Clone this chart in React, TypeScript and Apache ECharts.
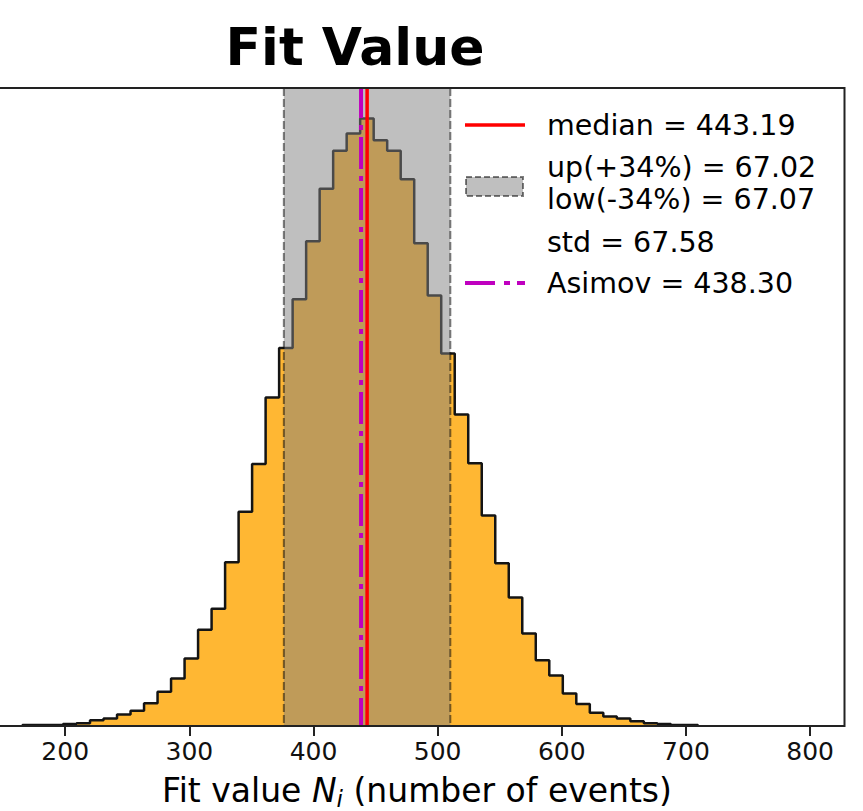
import React, { useEffect, useRef } from 'react';
import * as echarts from 'echarts';

// ---- data ----
const BIN_MIN = 165.6;
const BIN_MAX = 709.6;
const counts = [
  1, 1, 1, 2, 3, 6, 8, 12, 16, 24,
  36, 50, 71, 101, 123, 172, 225, 275, 345, 397,
  448, 509, 564, 604, 622, 638, 615, 604, 574, 507,
  452, 391, 327, 276, 221, 171, 135, 97, 69, 53,
  34, 23, 14, 10, 8, 5, 3, 2, 1, 1,
];
const MEDIAN = 443.19;
const UP_ERR = 67.02;
const LOW_ERR = 67.07;
const STD = 67.58;
const ASIMOV = 438.3;
const TICKS = [200, 300, 400, 500, 600, 700, 800];
const X_MIN = 147.5;
const X_MAX = 827.7;
const LEGEND_LABELS = [
  'median = 443.19',
  'up(+34%) = 67.02',
  'low(-34%) = 67.07',
  'std = 67.58',
  'Asimov = 438.30',
];

const Y_MAX = Math.max(...counts) * 1.05;
const BAND_LOW = MEDIAN - LOW_ERR;
const BAND_UP = MEDIAN + UP_ERR;

const FONT = '"DejaVu Sans", "Liberation Sans", sans-serif';

function histOutline(): number[][] {
  const n = counts.length;
  const w = (BIN_MAX - BIN_MIN) / n;
  const pts: number[][] = [[BIN_MIN, 0]];
  for (let i = 0; i < n; i++) {
    pts.push([BIN_MIN + i * w, counts[i]]);
    pts.push([BIN_MIN + (i + 1) * w, counts[i]]);
  }
  pts.push([BIN_MAX, 0]);
  return pts;
}

export default function App() {
  const ref = useRef<HTMLDivElement>(null);
  useEffect(() => {
    if (!ref.current) return;
    const chart = echarts.init(ref.current, undefined, { renderer: 'svg' });
    const gridLeft = -2;
    const gridRight = 18.5;
    const gridTop = 88;
    const gridBottom = 85;
    const W = 863;
    const H = 811;
    const legX = 465;
    const txtX = 547;
    const option: any = {
      animation: false,
      backgroundColor: '#ffffff',
      grid: { left: gridLeft, right: gridRight, top: gridTop, bottom: gridBottom, show: false },
      xAxis: {
        type: 'value',
        min: X_MIN,
        max: X_MAX,
        axisLine: { show: false },
        splitLine: { show: false },
        axisTick: {
          show: true,
          customValues: TICKS,
          length: 10,
          lineStyle: { color: '#222', width: 2 },
        },
        axisLabel: {
          customValues: TICKS,
          fontSize: 25,
          color: '#111',
          fontFamily: FONT,
          margin: 13,
        },
      },
      yAxis: { type: 'value', min: 0, max: Y_MAX, show: false },
      series: [
        {
          type: 'line',
          name: 'hist',
          data: histOutline(),
          symbol: 'none',
          z: 2,
          lineStyle: { color: '#141414', width: 2.5 },
          areaStyle: { color: 'rgba(255,165,0,0.8)', opacity: 1 },
          silent: true,
        },
        {
          type: 'custom',
          name: 'band',
          z: 3,
          silent: true,
          data: [[BAND_LOW, BAND_UP]],
          encode: { x: [0, 1] },
          renderItem: (params: any, api: any) => {
            const p0 = api.coord([api.value(0), Y_MAX]);
            const p1 = api.coord([api.value(1), 0]);
            const dash = { stroke: 'rgba(0,0,0,0.5)', lineWidth: 2, lineDash: [8, 3] };
            return {
              type: 'group',
              children: [
                {
                  type: 'rect',
                  shape: { x: p0[0], y: p0[1], width: p1[0] - p0[0], height: p1[1] - p0[1] },
                  style: { fill: 'rgba(128,128,128,0.5)' },
                },
                { type: 'line', shape: { x1: p0[0], y1: p0[1], x2: p0[0], y2: p1[1] }, style: dash },
                { type: 'line', shape: { x1: p1[0], y1: p0[1], x2: p1[0], y2: p1[1] }, style: dash },
              ],
            };
          },
        },
        {
          type: 'line',
          name: 'median',
          data: [[MEDIAN, 0], [MEDIAN, Y_MAX]],
          symbol: 'none',
          z: 4,
          silent: true,
          lineStyle: { color: '#ff0000', width: 3.5 },
        },
        {
          type: 'line',
          name: 'asimov',
          data: [[ASIMOV, Y_MAX], [ASIMOV, 0]],
          symbol: 'none',
          z: 4,
          silent: true,
          lineStyle: { color: '#bf00bf', width: 4, type: [32, 7, 5, 7], dashOffset: 2 },
        },
      ],
      graphic: [
        // frame (spines)
        {
          type: 'polyline',
          z: 100,
          silent: true,
          shape: {
            points: [
              [gridLeft, gridTop],
              [W - gridRight, gridTop],
              [W - gridRight, H - gridBottom],
              [gridLeft, H - gridBottom],
            ],
          },
          style: { stroke: '#222', lineWidth: 2, fill: 'none' },
        },
        // title
        {
          type: 'text',
          z: 100,
          x: 355,
          y: 47,
          style: {
            text: 'Fit Value',
            align: 'center',
            verticalAlign: 'middle',
            fontSize: 52,
            fontWeight: 'bold',
            fontFamily: FONT,
            fill: '#000',
          },
        },
        // x-axis label
        {
          type: 'text',
          z: 100,
          x: 417,
          y: 790,
          style: {
            text: '{n|Fit value }{it|N}{sub|i}{n| (number of events)}',
            align: 'center',
            verticalAlign: 'middle',
            fill: '#000',
            rich: {
              n: { fontSize: 33, fontFamily: FONT, lineHeight: 40, fill: '#000' },
              it: { fontSize: 33, fontFamily: FONT, fontStyle: 'italic', lineHeight: 40, fill: '#000' },
              sub: { fontSize: 23, fontFamily: FONT, fontStyle: 'italic', lineHeight: 23, verticalAlign: 'bottom', fill: '#000' },
            },
          },
        },
        // legend handles
        {
          type: 'line',
          z: 100,
          shape: { x1: legX, y1: 125, x2: legX + 60, y2: 125 },
          style: { stroke: '#ff0000', lineWidth: 3.5 },
        },
        {
          type: 'rect',
          z: 100,
          shape: { x: legX + 1, y: 177, width: 57, height: 19 },
          style: { fill: 'rgba(128,128,128,0.5)', stroke: 'rgba(0,0,0,0.5)', lineWidth: 2, lineDash: [6, 3] },
        },
        {
          type: 'line',
          z: 100,
          shape: { x1: legX, y1: 283, x2: legX + 60, y2: 283 },
          style: { stroke: '#bf00bf', lineWidth: 4, lineDash: [30, 9, 6, 7] },
        },
        ...[125, 167.5, 199, 242.5, 283.5].map((y, i) => ({
          type: 'text',
          z: 100,
          x: txtX,
          y,
          style: {
            text: LEGEND_LABELS[i],
            align: 'left',
            verticalAlign: 'middle',
            fontSize: 28.5,
            fontFamily: FONT,
            fill: '#000',
          },
        })),
      ],
    };
    chart.setOption(option);
    return () => chart.dispose();
  }, []);
  return (
    <div
      ref={ref}
      style={{ position: 'fixed', left: 0, top: 0, width: 863, height: 811, background: '#fff' }}
    />
  );
}
